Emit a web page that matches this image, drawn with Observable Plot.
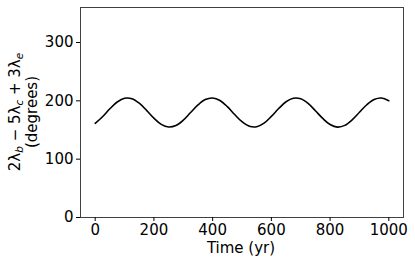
<!DOCTYPE html>
<html><head><meta charset="utf-8">
<script src="https://cdn.jsdelivr.net/npm/d3@7"></script>
<script src="https://cdn.jsdelivr.net/npm/@observablehq/plot@0.6"></script>
<style>body{margin:0;background:#fff;} svg{font-family:"DejaVu Sans",sans-serif;}</style>
</head><body><div id="chart"></div>
<script>
const years = [0,25,50,75,100,125,150,175,200,225,250,275,300,325,350,375,400,425,450,475,500,525,550,575,600,625,650,675,700,725,750,775,800,825,850,875,900,925,950,975,1000];
const angle = [161.4,172.8,186.4,198.0,204.4,203.7,196.0,183.7,170.3,159.7,155.1,157.7,166.8,179.9,192.9,202.2,204.9,200.5,190.0,176.6,164.2,156.4,155.5,161.8,173.3,186.8,198.4,204.5,203.5,195.6,183.1,169.8,159.4,155.0,157.9,167.3,180.4,193.3,202.4,204.9,200.1];
const xTicks = [0,200,400,600,800,1000];
const yTicks = [0,100,200,300];
const data = years.map((t,i)=>({t, v: angle[i]}));

const plot = Plot.plot({
  width: 415, height: 265,
  marginLeft: 80, marginRight: 12, marginTop: 7, marginBottom: 48,
  style: {fontSize: "15px", fontFamily: "DejaVu Sans, sans-serif", color: "#000", background: "#fff"},
  x: {domain: [-50, 1050], ticks: xTicks, label: null},
  y: {domain: [0, 360], ticks: yTicks, label: null},
  marks: [
    Plot.frame({stroke: "#000", strokeOpacity: 0.75, strokeWidth: 1}),
    Plot.axisX({ticks: xTicks, tickSize: 4, tickPadding: 3, label: null, fontSize: 15, tickFormat: d3.format("d")}),
    Plot.axisY({ticks: yTicks, tickSize: 4, tickPadding: 3, label: null, fontSize: 15, tickFormat: d3.format("d")}),
    Plot.line(data, {x: "t", y: "v", stroke: "#000", strokeWidth: 1.6, curve: "catmull-rom"})
  ]
});
const svg = d3.select(plot);
svg.append("text").attr("x", 241).attr("y", 253).attr("text-anchor", "middle")
  .attr("font-size", 15).attr("fill", "#000").text("Time (yr)");
const g = svg.append("g").attr("transform", "translate(0,112) rotate(-90)");
const t1 = g.append("text").attr("x", 0).attr("y", 20).attr("text-anchor", "middle").attr("font-size", 15).attr("fill", "#000");
t1.append("tspan").text("2λ");
t1.append("tspan").attr("font-size", 10.5).attr("dy", 3).attr("font-style", "italic").text("b");
t1.append("tspan").attr("dy", -3).text(" − 5λ");
t1.append("tspan").attr("font-size", 10.5).attr("dy", 3).attr("font-style", "italic").text("c");
t1.append("tspan").attr("dy", -3).text(" + 3λ");
t1.append("tspan").attr("font-size", 10.5).attr("dy", 3).attr("font-style", "italic").text("e");
g.append("text").attr("x", 0).attr("y", 37).attr("text-anchor", "middle").attr("font-size", 15).attr("fill", "#000").text("(degrees)");
document.getElementById("chart").appendChild(plot);
</script></body></html>
